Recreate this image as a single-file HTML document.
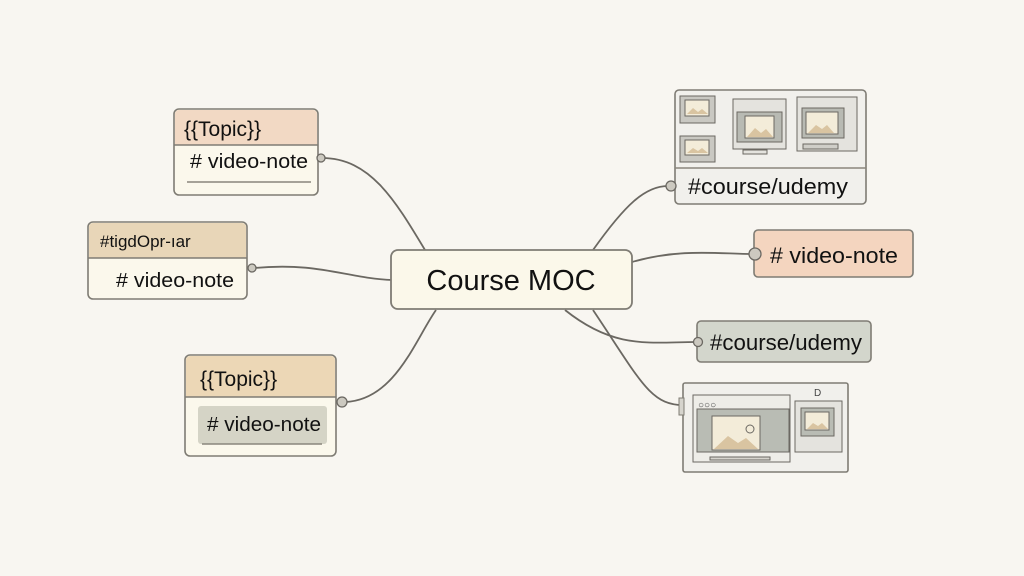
<!DOCTYPE html>
<html><head><meta charset="utf-8"><style>
html,body{margin:0;padding:0;background:#f8f6f1;}
svg{display:block;font-family:"Liberation Sans","DejaVu Sans",sans-serif;}
</style></head><body>
<svg width="1024" height="576" viewBox="0 0 1024 576" xmlns="http://www.w3.org/2000/svg">
<rect width="1024" height="576" fill="#f8f6f1"/>
<g fill="none" stroke="#6b6862" stroke-width="1.8">
<path d="M322,158 C370,158 395,200 425,250"/>
<path d="M254,268 C320,262 345,278 392,280"/>
<path d="M345,402 C395,400 415,340 436,310"/>
<path d="M593,250 C625,205 645,186 668,186"/>
<path d="M632,262 C680,248 720,254 752,254"/>
<path d="M565,310 C615,350 650,342 696,342"/>
<path d="M593,310 C640,380 650,405 683,405"/>
</g>
<!-- center -->
<rect x="391" y="250" width="241" height="59" rx="7" fill="#fbf8ea" stroke="#7f7c74" stroke-width="1.8"/>
<text x="511" y="290" font-size="29" text-anchor="middle" fill="#111">Course MOC</text>
<!-- box1 -->
<rect x="174" y="109" width="144" height="86" rx="5" fill="#fbf8ec" stroke="#7f7c74" stroke-width="1.6"/>
<path d="M175,145 V114 a4,4 0 0 1 4,-4 H313 a4,4 0 0 1 4,4 V145Z" fill="#f2d9c4"/>
<line x1="174" y1="145" x2="318" y2="145" stroke="#7f7c74" stroke-width="1.4"/>
<text x="184" y="136" font-size="21" fill="#111">{{Topic}}</text>
<text x="190" y="168" font-size="20" fill="#111" textLength="118" lengthAdjust="spacingAndGlyphs"># video-note</text>
<line x1="187" y1="182" x2="311" y2="182" stroke="#8a867d" stroke-width="1.4"/>
<circle cx="321" cy="158" r="4" fill="#ccc9c0" stroke="#6b6862" stroke-width="1.3"/>
<!-- box2 -->
<rect x="88" y="222" width="159" height="77" rx="5" fill="#fbf8ec" stroke="#7f7c74" stroke-width="1.6"/>
<path d="M89,258 V227 a4,4 0 0 1 4,-4 H242 a4,4 0 0 1 4,4 V258Z" fill="#e8d6b8"/>
<line x1="88" y1="258" x2="247" y2="258" stroke="#7f7c74" stroke-width="1.4"/>
<text x="100" y="247" font-size="17" fill="#111">#tigdOpr-ıar</text>
<text x="116" y="287" font-size="20" fill="#111" textLength="118" lengthAdjust="spacingAndGlyphs"># video-note</text>
<circle cx="252" cy="268" r="4" fill="#ccc9c0" stroke="#6b6862" stroke-width="1.3"/>
<!-- box3 -->
<rect x="185" y="355" width="151" height="101" rx="5" fill="#fbf8ec" stroke="#7f7c74" stroke-width="1.6"/>
<path d="M186,397 V360 a4,4 0 0 1 4,-4 H331 a4,4 0 0 1 4,4 V397Z" fill="#ecd7b6"/>
<line x1="185" y1="397" x2="336" y2="397" stroke="#7f7c74" stroke-width="1.4"/>
<text x="200" y="386" font-size="21" fill="#111">{{Topic}}</text>
<rect x="198" y="406" width="129" height="38" rx="3" fill="#d5d4c6"/>
<line x1="202" y1="444" x2="322" y2="444" stroke="#8a867d" stroke-width="1.4"/>
<text x="207" y="431" font-size="20" fill="#111" textLength="114" lengthAdjust="spacingAndGlyphs"># video-note</text>
<circle cx="342" cy="402" r="5" fill="#ccc9c0" stroke="#6b6862" stroke-width="1.3"/>
<!-- box A -->
<rect x="675" y="90" width="191" height="114" rx="4" fill="#f1f0ec" stroke="#7f7c74" stroke-width="1.6"/>
<line x1="675" y1="168" x2="866" y2="168" stroke="#8a867d" stroke-width="1.4"/>
<g stroke="#6b6862" stroke-width="1">
<rect x="680" y="96" width="35" height="27" fill="#c9c8c2"/><rect x="685" y="100" width="24" height="16" fill="#f3ecd9"/>
<rect x="680" y="136" width="35" height="26" fill="#c9c8c2"/><rect x="685" y="140" width="24" height="15" fill="#f3ecd9"/>
<rect x="733" y="99" width="53" height="50" fill="#e4e3de"/><rect x="737" y="112" width="45" height="30" fill="#b8bab3"/><rect x="745" y="116" width="29" height="22" fill="#f3ecd9"/>
<rect x="743" y="150" width="24" height="4" fill="#e4e3de"/>
<rect x="797" y="97" width="60" height="54" fill="#e4e3de"/><rect x="802" y="108" width="42" height="30" fill="#b8bab3"/><rect x="806" y="112" width="32" height="22" fill="#f3ecd9"/>
<rect x="803" y="144" width="35" height="5" fill="#cfcec8"/>
</g>
<g fill="#d9c4a1"><path d="M687,114 l6,-6 5,4 4,-3 6,5z"/><path d="M687,153 l6,-5 5,3 4,-3 6,5z"/><path d="M747,137 l8,-9 6,5 5,-4 7,8z"/><path d="M808,133 l8,-8 6,4 5,-4 7,8z"/></g>
<text x="688" y="194" font-size="22" fill="#111" textLength="160" lengthAdjust="spacingAndGlyphs">#course/udemy</text>
<circle cx="671" cy="186" r="5" fill="#ccc9c0" stroke="#6b6862" stroke-width="1.3"/>
<!-- box B -->
<rect x="754" y="230" width="159" height="47" rx="4" fill="#f4d5bf" stroke="#7f7c74" stroke-width="1.6"/>
<text x="770" y="263" font-size="22" fill="#111" textLength="128" lengthAdjust="spacingAndGlyphs"># video-note</text>
<circle cx="755" cy="254" r="6" fill="#ccc9c0" stroke="#6b6862" stroke-width="1.3"/>
<!-- box C -->
<rect x="697" y="321" width="174" height="41" rx="4" fill="#d3d6cc" stroke="#7f7c74" stroke-width="1.6"/>
<text x="710" y="350" font-size="22" fill="#111" textLength="152" lengthAdjust="spacingAndGlyphs">#course/udemy</text>
<circle cx="698" cy="342" r="4.5" fill="#ccc9c0" stroke="#6b6862" stroke-width="1.3"/>
<!-- box D -->
<rect x="683" y="383" width="165" height="89" rx="2" fill="#f1f0ec" stroke="#7f7c74" stroke-width="1.6"/>
<rect x="679" y="398" width="5" height="17" fill="#d6d4cd" stroke="#7f7c74" stroke-width="1"/>
<g stroke="#6b6862" stroke-width="1">
<rect x="693" y="395" width="97" height="67" fill="#eeede8"/>
<rect x="697" y="409" width="92" height="43" fill="#b9bcb4"/>
<rect x="712" y="416" width="48" height="34" fill="#f3ecd9"/>
<circle cx="750" cy="429" r="4" fill="none"/>
<rect x="795" y="401" width="47" height="51" fill="#e4e3de"/>
<rect x="801" y="408" width="33" height="28" fill="#b9bcb4"/><rect x="805" y="412" width="24" height="18" fill="#f3ecd9"/>
<rect x="710" y="457" width="60" height="3" fill="#d6d4cd"/>
</g>
<g fill="#d9c4a1"><path d="M714,449 l14,-13 10,7 8,-5 12,11z"/><path d="M807,429 l6,-6 5,3 4,-3 6,6z"/></g>
<text x="698" y="408" font-size="10" fill="#444">○○○</text>
<text x="814" y="396" font-size="10" fill="#444">D</text>
</svg>
</body></html>
